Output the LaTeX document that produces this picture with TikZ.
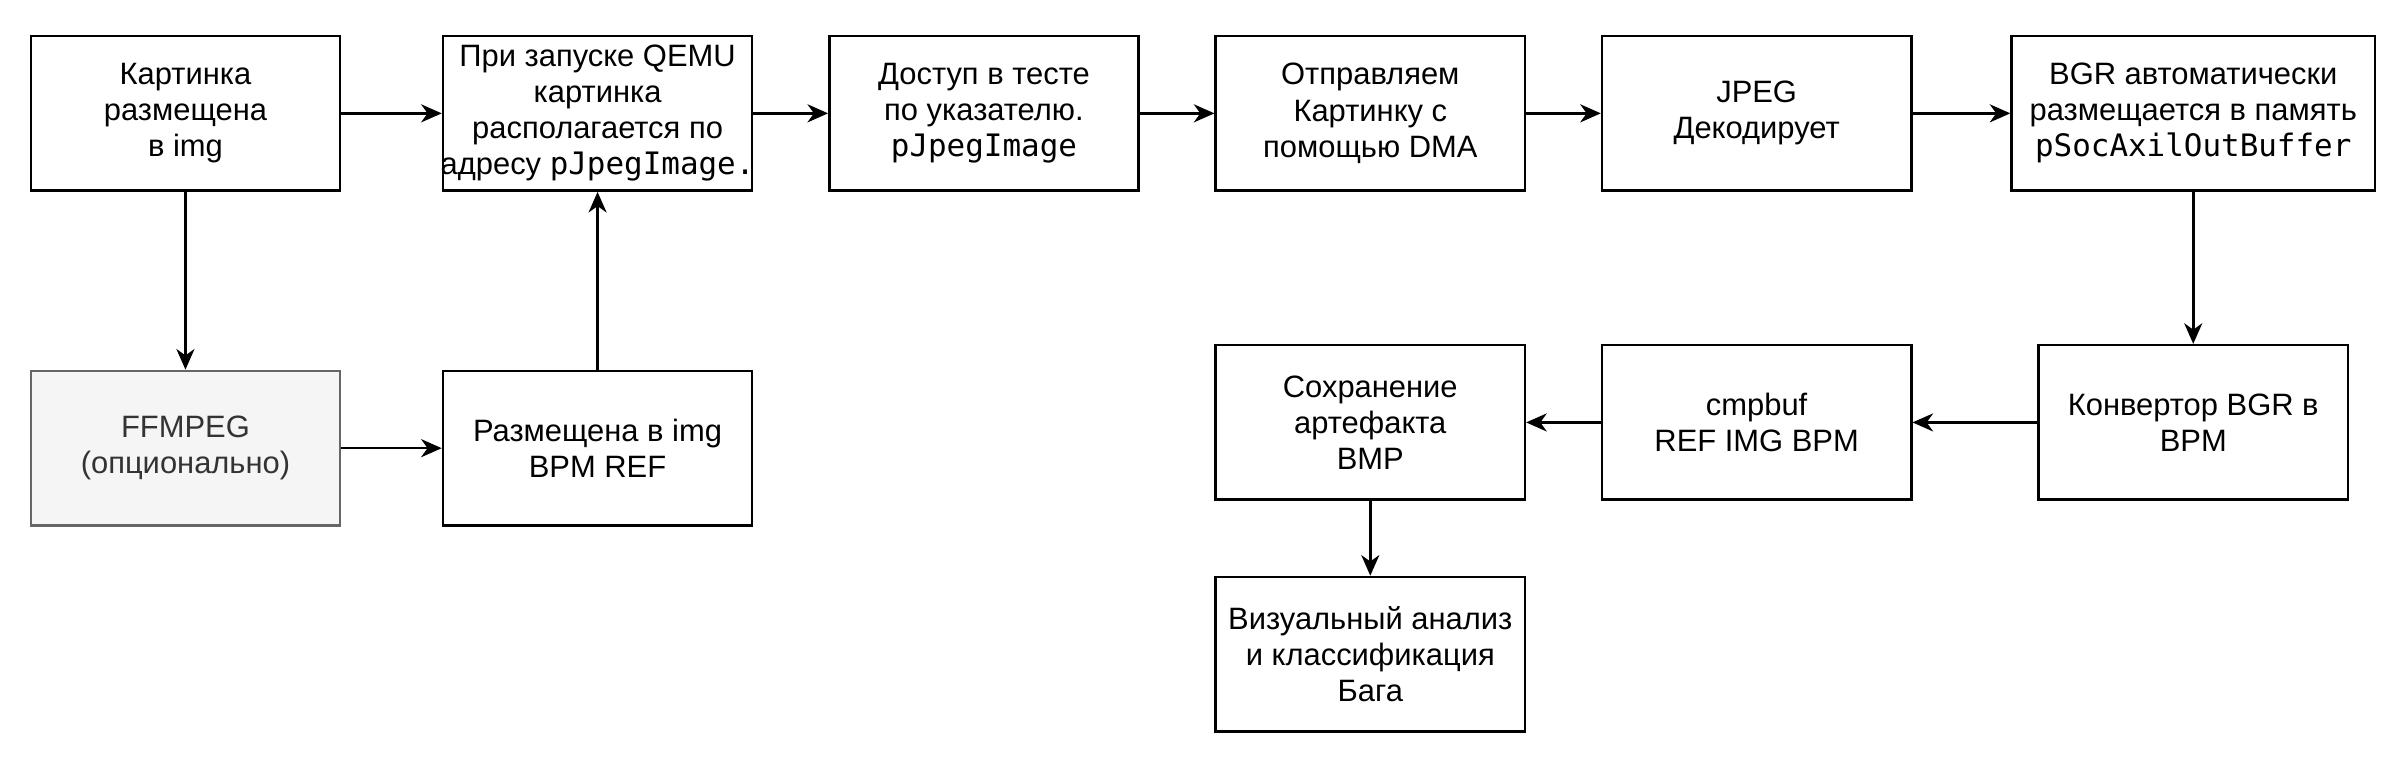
\documentclass[tikz,border=0pt]{standalone}
\usepackage{fontspec}
\setmainfont{Liberation Sans}
\newfontfamily\codefont{DejaVu Sans Mono}
\usetikzlibrary{arrows.meta,positioning}
\definecolor{optfill}{HTML}{F5F5F5}
\definecolor{optline}{HTML}{666666}
\definecolor{opttext}{HTML}{333333}
\tikzstyle{stage}=[draw,line width=1pt,minimum width=120pt,minimum
height=60pt,inner sep=0pt,align=center,font=\fontsize{12}{14}\selectfont]
\tikzstyle{optional}=[fill=optfill,draw=optline,text=opttext]

\begin{document}
\begin{tikzpicture}[x=1pt, y=1pt, >={Stealth[length=8pt,width=7pt,inset=2.5pt]},
    node distance=150pt, on grid]
  \tikzstyle{flow}=[->, line width=1pt]
  \useasboundingbox (0,0) rectangle (931,-300.6);

  % top row
  \node[stage] (img) at (72,-44) {Картинка\\размещена\\в img};
  \node[stage, inner xsep=-2.5pt, right=160pt of img] (qemu) {При запуске QEMU\\картинка\\располагается по\\адресу {\codefont pJpegImage.}};
  \node[stage, right=of qemu] (test) {Доступ в тесте\\по указателю.\\{\codefont pJpegImage}};
  \node[stage, right=of test] (dma) {Отправляем\\Картинку с\\помощью DMA};
  \node[stage, right=of dma] (jpeg) {JPEG\\Декодирует};
  \node[stage, minimum width=141pt, right=169.5pt of jpeg] (bgr) {BGR автоматически\\размещается в память\\{\codefont pSocAxilOutBuffer}};

  % reference branch
  \node[stage, optional, below=130pt of img] (ffmpeg) {FFMPEG\\(опционально)};
  \node[stage, right=160pt of ffmpeg] (ref) {Размещена в img\\BPM REF};

  % bottom row
  \node[stage, below=120pt of bgr] (conv) {Конвертор BGR в\\BPM};
  \node[stage, left=169.5pt of conv] (cmp) {cmpbuf\\REF IMG BPM};
  \node[stage, left=of cmp] (save) {Сохранение\\артефакта\\BMP};
  \node[stage, below=90pt of save] (bug) {Визуальный анализ\\и классификация\\Бага};

  \draw[flow] (img) -- (qemu);
  \draw[flow] (qemu) -- (test);
  \draw[flow] (test) -- (dma);
  \draw[flow] (dma) -- (jpeg);
  \draw[flow] (jpeg) -- (bgr);
  \draw[flow] (img) -- (ffmpeg);
  \draw[flow] (ffmpeg) -- (ref);
  \draw[flow] (ref) -- (qemu);
  \draw[flow] (bgr) -- (conv);
  \draw[flow] (conv) -- (cmp);
  \draw[flow] (cmp) -- (save);
  \draw[flow] (save) -- (bug);
\end{tikzpicture}
\end{document}
